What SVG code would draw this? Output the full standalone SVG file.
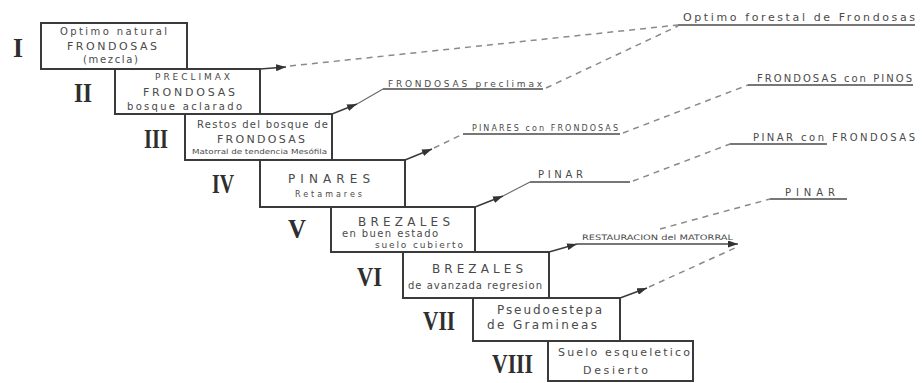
<svg xmlns="http://www.w3.org/2000/svg" width="922" height="383" viewBox="0 0 922 383">
  <style>
    .box { fill: #ffffff; stroke: #3a3a3a; stroke-width: 2; }
    .num { font-family: "Liberation Serif", "Times New Roman", serif; font-weight: bold; font-size: 28px; fill: #2e2e2e; }
    .t { font-family: "DejaVu Sans", "Liberation Sans", sans-serif; fill: #4a4a4a; }
    .lbl { font-family: "DejaVu Sans", "Liberation Sans", sans-serif; fill: #4a4a4a; }
    .solid { fill: none; stroke: #3a3a3a; stroke-width: 1.5; }
    .thin { fill: none; stroke: #6a6a6a; stroke-width: 1.2; }
    .dash { fill: none; stroke: #8a8a8a; stroke-width: 1.5; stroke-dasharray: 6 5; }
    .uline { fill: none; stroke: #4a4a4a; stroke-width: 1.4; }
  </style>
  <defs>
    <marker id="arrow" markerUnits="userSpaceOnUse" markerWidth="11" markerHeight="7" refX="10" refY="3.5" orient="auto">
      <path d="M0,0 L10,3.5 L0,7 z" fill="#333333"/>
    </marker>
  </defs>

  <rect width="922" height="383" fill="#ffffff"/>

  <!-- Stage I -->
  <g id="stage-1">
    <rect class="box" x="41" y="23" width="146" height="46"/>
    <text class="num" x="13" y="57" textLength="10" lengthAdjust="spacingAndGlyphs">I</text>
    <text class="t" x="60" y="35" font-size="10" textLength="107" lengthAdjust="spacing">Optimo natural</text>
    <text class="t" x="67" y="50" font-size="11" textLength="90" lengthAdjust="spacing">FRONDOSAS</text>
    <text class="t" x="83" y="63" font-size="10" textLength="55" lengthAdjust="spacing">(mezcla)</text>
  </g>

  <!-- Stage II -->
  <g id="stage-2">
    <rect class="box" x="115" y="69" width="145" height="45"/>
    <text class="num" x="74" y="102" textLength="18" lengthAdjust="spacingAndGlyphs">II</text>
    <text class="t" x="155" y="80" font-size="9" textLength="75" lengthAdjust="spacing">PRECLIMAX</text>
    <text class="t" x="143" y="96" font-size="11" textLength="92" lengthAdjust="spacing">FRONDOSAS</text>
    <text class="t" x="127" y="110" font-size="10" textLength="115" lengthAdjust="spacing">bosque aclarado</text>
  </g>

  <!-- Stage III -->
  <g id="stage-3">
    <rect class="box" x="185" y="114" width="147" height="46"/>
    <text class="num" x="144" y="148" textLength="24" lengthAdjust="spacingAndGlyphs">III</text>
    <text class="t" x="197" y="128" font-size="10" textLength="131" lengthAdjust="spacing">Restos del bosque de</text>
    <text class="t" x="217" y="143" font-size="11" textLength="88" lengthAdjust="spacing">FRONDOSAS</text>
    <text class="t" x="192" y="154" font-size="7" textLength="135" lengthAdjust="spacingAndGlyphs">Matorral de tendencia Mesófila</text>
  </g>

  <!-- Stage IV -->
  <g id="stage-4">
    <rect class="box" x="260" y="160" width="145" height="47"/>
    <text class="num" x="212" y="193" textLength="22" lengthAdjust="spacingAndGlyphs">IV</text>
    <text class="t" x="288" y="183" font-size="12" textLength="82" lengthAdjust="spacing">PINARES</text>
    <text class="t" x="295" y="197" font-size="8" textLength="67" lengthAdjust="spacing">Retamares</text>
  </g>

  <!-- Stage V -->
  <g id="stage-5">
    <rect class="box" x="331" y="207" width="144" height="45"/>
    <text class="num" x="288" y="238" textLength="18" lengthAdjust="spacingAndGlyphs">V</text>
    <text class="t" x="358" y="226" font-size="12" textLength="92" lengthAdjust="spacing">BREZALES</text>
    <text class="t" x="342" y="237" font-size="10" textLength="96" lengthAdjust="spacing">en buen estado</text>
    <text class="t" x="375" y="248" font-size="9" textLength="88" lengthAdjust="spacing">suelo cubierto</text>
  </g>

  <!-- Stage VI -->
  <g id="stage-6">
    <rect class="box" x="403" y="252" width="146" height="46"/>
    <text class="num" x="357" y="286" textLength="25" lengthAdjust="spacingAndGlyphs">VI</text>
    <text class="t" x="432" y="273" font-size="12" textLength="91" lengthAdjust="spacing">BREZALES</text>
    <text class="t" x="408" y="289" font-size="10" textLength="134" lengthAdjust="spacing">de avanzada regresion</text>
  </g>

  <!-- Stage VII -->
  <g id="stage-7">
    <rect class="box" x="473" y="298" width="147" height="43"/>
    <text class="num" x="423" y="330" textLength="32" lengthAdjust="spacingAndGlyphs">VII</text>
    <text class="t" x="497" y="314" font-size="12" textLength="105" lengthAdjust="spacing">Pseudoestepa</text>
    <text class="t" x="487" y="329" font-size="12" textLength="110" lengthAdjust="spacing">de Gramineas</text>
  </g>

  <!-- Stage VIII -->
  <g id="stage-8">
    <rect class="box" x="548" y="341" width="145" height="40"/>
    <text class="num" x="492" y="373" textLength="41" lengthAdjust="spacingAndGlyphs">VIII</text>
    <text class="t" x="558" y="356" font-size="11" textLength="132" lengthAdjust="spacing">Suelo esqueletico</text>
    <text class="t" x="583" y="374" font-size="11" textLength="65" lengthAdjust="spacing">Desierto</text>
  </g>

  <!-- Outcome labels -->
  <g id="outcomes">
    <text class="lbl" x="683" y="21" font-size="11" textLength="232" lengthAdjust="spacing">Optimo forestal de Frondosas</text>
    <text class="lbl" x="388" y="87" font-size="9" textLength="154" lengthAdjust="spacing">FRONDOSAS preclimax</text>
    <text class="lbl" x="472" y="131" font-size="8" textLength="146" lengthAdjust="spacing">PINARES con FRONDOSAS</text>
    <text class="lbl" x="757" y="82" font-size="10" textLength="155" lengthAdjust="spacing">FRONDOSAS con PINOS</text>
    <text class="lbl" x="538" y="178" font-size="10" textLength="45" lengthAdjust="spacing">PINAR</text>
    <text class="lbl" x="753" y="141" font-size="10" textLength="162" lengthAdjust="spacing">PINAR con FRONDOSAS</text>
    <text class="lbl" x="582" y="240" font-size="7.5" textLength="151" lengthAdjust="spacingAndGlyphs">RESTAURACION del MATORRAL</text>
    <text class="lbl" x="785" y="196" font-size="10" textLength="50" lengthAdjust="spacing">PINAR</text>
  </g>

  <!-- Connectors -->
  <g id="connectors">
    <!-- from II -->
    <path class="solid" d="M260,69 L286,67" marker-end="url(#arrow)"/>
    <path class="dash" d="M290,66 L678,25"/>
    <path class="uline" d="M678,25 L915,25"/>
    <!-- from III -->
    <path class="solid" d="M332,114 L357,104" marker-end="url(#arrow)"/>
    <path class="thin" d="M357,104 L383,89"/>
    <path class="uline" d="M383,89 L543,89"/>
    <path class="dash" d="M546,88 L678,26"/>
    <!-- from IV -->
    <path class="solid" d="M405,160 L432,149" marker-end="url(#arrow)"/>
    <path class="dash" d="M434,148 L463,134"/>
    <path class="uline" d="M463,134 L620,134"/>
    <path class="dash" d="M623,133 L748,85"/>
    <path class="uline" d="M748,85 L913,85"/>
    <!-- from V -->
    <path class="solid" d="M475,207 L503,196" marker-end="url(#arrow)"/>
    <path class="thin" d="M503,196 L530,182"/>
    <path class="uline" d="M530,182 L630,182"/>
    <path class="dash" d="M633,181 L730,144"/>
    <path class="uline" d="M730,144 L827,144"/>
    <!-- from VI -->
    <path class="solid" d="M549,252 L577,244" marker-end="url(#arrow)"/>
    <path class="uline" d="M577,244 L738,244" marker-end="url(#arrow)"/>
    <path class="dash" d="M660,229 L770,199"/>
    <path class="uline" d="M770,199 L847,199"/>
    <!-- from VII -->
    <path class="solid" d="M620,298 L647,288" marker-end="url(#arrow)"/>
    <path class="dash" d="M649,287 L735,248"/>
  </g>
</svg>
